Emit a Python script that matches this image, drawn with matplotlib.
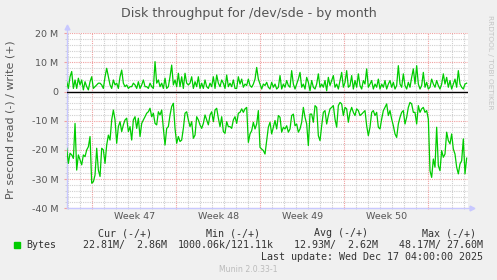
import numpy as np
import matplotlib
matplotlib.use("Agg")
import matplotlib.pyplot as plt
from matplotlib.ticker import MultipleLocator, FixedLocator

# ---- data (MB/s), sampled every ~3.33 h, x in days from left edge ----
write_vals = [
    3.4, 1.1, 5.1, 6.9, 1.1, 4.0, 1.1, 4.6, 2.3, 4.0, 0.6, 3.4, 1.7, 0.6, 3.4, 5.1,
    1.1, 1.7, 2.3, 2.9, 2.9, 2.3, 1.1, 5.1, 8.0, 5.1, 2.3, 1.1, 4.0, 2.3, 2.9, 1.1,
    5.1, 7.4, 2.9, 1.7, 2.3, 1.1, 1.7, 1.7, 2.9, 2.3, 1.1, 3.4, 1.1, 2.3, 4.0, 1.7,
    1.7, 1.1, 2.9, 1.7, 1.1, 10.3, 2.9, 4.0, 1.7, 2.9, 1.1, 4.6, 1.1, 1.7, 5.1, 9.1,
    2.3, 4.0, 1.7, 6.3, 1.7, 5.1, 1.1, 6.3, 2.9, 2.3, 2.9, 5.1, 1.1, 3.4, 1.7, 5.1,
    1.1, 2.9, 1.1, 4.0, 1.7, 1.1, 2.9, 1.7, 5.1, 1.1, 5.7, 2.9, 1.7, 4.0, 2.9, 1.1,
    5.7, 1.7, 2.9, 1.7, 4.0, 1.1, 1.1, 5.1,
    2.6, 4.3, 1.5, 2.6, 2.1, 4.3, 2.1, 1.5, 2.6, 4.3, 8.3, 4.3, 2.6, 0.9, 2.6, 2.1,
    3.2, 1.5, 0.9, 3.2, 1.5, 2.6, 0.9, 1.5, 5.5, 0.9, 2.6, 1.5, 3.8, 2.1, 1.5, 7.2,
    2.6, 0.9, 2.6, 4.3, 6.6, 1.5, 2.6, 0.9, 4.9, 3.2, 0.3, 3.8, 1.5, 0.9, 2.6, 6.1,
    1.5, 2.6, 1.5, 3.8, 0.3, 4.9, 2.1, 3.8, 5.5, 1.5, 2.6, 0.9, 3.8, 6.6, 1.5, 3.2,
    7.2, 1.5, 2.1, 5.5, 0.9, 3.8, 1.5, 6.1, 2.1, 0.9, 3.8, 2.6, 7.8, 1.5, 2.6, 3.8,
    0.9, 2.6, 1.5, 4.3, 0.9, 2.6, 1.5, 3.8, 0.9, 2.6, 3.8, 1.5, 3.2, 0.9, 2.1, 8.9,
    2.6, 1.5, 6.1, 2.1, 0.9, 3.2, 1.5, 4.9, 7.8, 2.6, 8.9, 2.6, 0.9, 2.1, 6.6, 1.5,
    3.2, 0.9, 1.5, 4.3, 2.6, 1.5, 3.8, 2.1, 0.9, 2.6, 6.1, 2.6, 4.9, 1.5, 3.8, 0.9,
    2.6, 4.3, 1.5, 7.2, 2.6, 1.5, 0.9, 2.6, 2.9,
]
read_vals = [
    19.4, 24.6, 21.1, 21.7, 22.9, 10.9, 26.9, 21.7, 23.4, 25.1, 21.7, 22.3, 20.0, 18.9, 15.4, 31.4,
    30.9, 28.6, 19.4, 26.9, 29.1, 19.4, 20.0, 24.6, 18.3, 14.9, 16.6, 9.7, 6.3, 9.7, 17.7, 12.0,
    10.3, 13.7, 11.4, 9.7, 9.1, 13.7, 12.0, 16.6, 9.7, 8.6, 12.6, 9.1, 15.4, 10.9, 9.7, 8.6,
    7.4, 6.9, 5.7, 8.6, 7.4, 10.9, 11.4, 6.9, 8.0, 6.3, 12.6, 18.3, 12.6, 12.0, 8.0, 5.1,
    4.0, 12.6, 17.7, 15.4, 17.1, 16.6, 12.6, 7.4, 6.9, 9.7, 12.0, 10.3, 16.0, 14.9, 8.6, 9.7,
    11.4, 12.6, 10.9, 8.0, 9.7, 11.4, 8.0, 6.9, 10.3, 6.3, 5.7, 9.1, 12.0, 8.6, 13.7, 14.3,
    10.3, 12.0, 12.0, 12.6, 9.7, 8.6, 10.9, 7.4,
    7.1, 5.9, 7.1, 5.9, 5.4, 17.4, 14.5, 13.4, 10.5, 12.8, 11.1, 6.5, 19.1, 19.7, 20.2, 21.4,
    16.8, 12.2, 10.5, 14.5, 12.2, 9.9, 12.8, 8.2, 8.8, 13.9, 12.2, 12.8, 11.7, 13.9, 12.8, 8.2,
    7.7, 11.7, 11.1, 13.9, 12.8, 10.5, 5.4, 8.8, 11.1, 18.5, 7.7, 7.7, 10.5, 4.8, 5.4, 15.1,
    16.8, 11.7, 7.1, 6.5, 11.1, 8.2, 5.9, 5.4, 4.8, 9.4, 12.2, 4.8, 3.7, 4.2, 8.2, 5.4,
    5.9, 10.5, 7.1, 5.4, 7.1, 8.2, 5.9, 6.5, 8.2, 7.7, 7.1, 6.5, 11.7, 15.1, 12.2, 7.1,
    6.5, 8.2, 7.1, 12.2, 12.8, 9.4, 6.5, 5.4, 4.2, 8.2, 6.5, 9.4, 11.7, 14.5, 15.7, 11.1,
    8.8, 7.1, 6.5, 11.1, 8.8, 5.4, 3.7, 4.2, 7.1, 7.1, 11.1, 4.8, 7.1, 5.9, 5.4, 7.1,
    6.5, 9.4, 27.1, 29.4, 23.1, 25.9, 12.2, 25.4, 27.1, 20.2, 22.5, 21.4, 13.9, 16.8, 17.9, 14.5,
    19.7, 21.4, 25.9, 28.2, 24.8, 23.7, 16.2, 28.2, 22.8,
]
week_labels = ["Week 47", "Week 48", "Week 49", "Week 50"]
week_starts = [2.13, 9.13, 16.13, 23.13, 30.13]
y_ticks = [-40, -30, -20, -10, 0, 10, 20]
y_tick_labels = ["-40 M", "-30 M", "-20 M", "-10 M", "0", "10 M", "20 M"]

step_days = (5.0 / 3.0) / 12.0
t = np.arange(len(write_vals)) * step_days
write = np.array(write_vals)
read = -np.array(read_vals)

W, H = 497, 280
fig = plt.figure(figsize=(W / 100, H / 100), dpi=100, facecolor="#F0F0F0")
ax = fig.add_axes([66.7 / W, 1 - 208.3 / H, (468.3 - 66.7) / W, (208.3 - 33.3) / H])
ax.set_facecolor("white")
ax.set_xlim(0, 33.47)
ax.set_ylim(-40, 20)

# grid
ax.yaxis.set_major_locator(FixedLocator(y_ticks))
ax.yaxis.set_minor_locator(MultipleLocator(2))
ax.xaxis.set_major_locator(FixedLocator(week_starts))
ax.xaxis.set_minor_locator(MultipleLocator(1, offset=0.13))
ax.grid(which="minor", color="#CFCFCF", linestyle=(0, (1, 1)), linewidth=0.8)
ax.grid(which="major", color="#F0A0A0", linestyle=(0, (1, 1)), linewidth=0.8)
ax.set_axisbelow(True)

ax.set_yticklabels(y_tick_labels)
ax.set_xticklabels([])
ax.tick_params(axis="y", which="major", labelsize=6.8, labelcolor="#555555",
               length=2, color="#F0A0A0", pad=4)
ax.tick_params(axis="y", which="minor", length=1.5, color="#C8C8C8")
ax.tick_params(axis="x", which="major", length=2, color="#F0A0A0", direction="inout")
ax.tick_params(axis="x", which="minor", length=1.5, color="#C8C8C8", direction="inout")

for s in ["top", "right", "left", "bottom"]:
    ax.spines[s].set_visible(False)
ax.plot([0, 0], [0, 1.035], transform=ax.transAxes, color="#C8C8FF", lw=1, clip_on=False)
ax.plot([0, 1.01], [0, 0], transform=ax.transAxes, color="#C8C8FF", lw=1, clip_on=False)
ax.plot([0], [1.035], transform=ax.transAxes, marker="^", ms=3.5, color="#C8C8FF", clip_on=False)
ax.plot([1.01], [0], transform=ax.transAxes, marker=">", ms=3.5, color="#C8C8FF", clip_on=False)

ax.axhline(0, color="black", lw=1.0, zorder=3)
ax.plot(t, write, color="#00CC00", lw=0.9, zorder=4)
ax.plot(t, read, color="#00CC00", lw=0.9, zorder=4)

for i, lab in enumerate(week_labels):
    mid = (week_starts[i] + week_starts[i + 1]) / 2
    ax.text(mid, -41.2, lab, ha="center", va="top", fontsize=6.8, color="#555555")

def ftext(x, y, s, **kw):
    fig.text(x / W, 1 - y / H, s, **kw)

ftext(248.5, 13.3, "Disk throughput for /dev/sde - by month", ha="center", va="center",
      fontsize=9.1, color="#555555")
ftext(10.7, 119.5, "Pr second read (-) / write (+)", ha="center", va="center",
      rotation=90, fontsize=7.9, color="#555555")
ftext(490, 15, "RRDTOOL / TOBI OETIKER", ha="center", va="top", rotation=270,
      fontsize=5.3, color="#C4C4C4")

mono = dict(family="DejaVu Sans Mono", fontsize=7.2, color="#333333", va="center")
ftext(151.7, 233.3, "Cur (-/+)", ha="right", **mono)
ftext(260.0, 233.3, "Min (-/+)", ha="right", **mono)
ftext(368.3, 233.3, "Avg (-/+)", ha="right", **mono)
ftext(476.0, 233.3, "Max (-/+)", ha="right", **mono)
ftext(26.7, 245.3, "Bytes", ha="left", **mono)
ftext(166.7, 245.3, "22.81M/  2.86M", ha="right", **mono)
ftext(273.3, 245.3, "1000.06k/121.11k", ha="right", **mono)
ftext(377.7, 245.3, "12.93M/  2.62M", ha="right", **mono)
ftext(483.3, 245.3, "48.17M/ 27.60M", ha="right", **mono)
ftext(483.3, 257.3, "Last update: Wed Dec 17 04:00:00 2025", ha="right", **mono)
ftext(248.7, 269.3, "Munin 2.0.33-1", ha="center", va="center", fontsize=5.6, color="#BBBBBB")
fig.patches.append(plt.Rectangle((14 / W, 1 - 247.5 / H), 5.5 / W, 5.5 / H,
                                 transform=fig.transFigure, color="#00CC00"))

fig.savefig("out.png", dpi=100, facecolor=fig.get_facecolor())
